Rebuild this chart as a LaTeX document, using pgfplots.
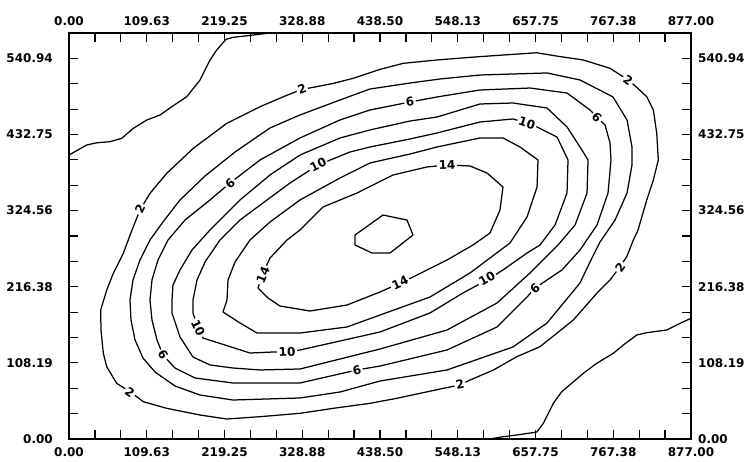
\documentclass[border=0pt]{standalone}
\usepackage{pgfplots}
\pgfplotsset{compat=1.18}
\usepackage{fontspec}
\setmainfont{DejaVu Sans}
\tikzset{lbl/.style={fill=white, inner sep=1.5bp, font=\bfseries\fontsize{12bp}{14bp}\selectfont}}
\pgfplotsset{cl/.style={black, solid, line width=1.25bp, line join=round, no markers}}
\begin{document}
\begin{tikzpicture}
\useasboundingbox (0,0) rectangle (747bp,462bp);
\pgfplotsset{
  base/.style={at={(69bp,23bp)}, anchor=south west, scale only axis,
    width=622bp, height=406bp, xmin=0, xmax=877, ymin=0, ymax=577,
    xtick={0,109.625,219.25,328.875,438.5,548.125,657.75,767.375,877},
    xticklabels={0.00,109.63,219.25,328.88,438.50,548.13,657.75,767.38,877.00},
    ytick={0,108.1875,216.375,324.5625,432.75,540.9375},
    yticklabels={0.00,108.19,216.38,324.56,432.75,540.94},
    ticklabel style={font=\bfseries\fontsize{12bp}{14bp}\selectfont, inner sep=0pt},
  }
}
\begin{axis}[base,
  minor x tick num=2, minor y tick num=2,
  tick align=inside, xtick pos=both, ytick pos=both,
  major tick length=9bp, minor tick length=9bp,
  every tick/.style={black, line width=1.2bp},
  axis line style={line width=1.6bp},
  xticklabel style={anchor=north, yshift=-8bp},
  yticklabel style={anchor=east, xshift=-16bp},
]
% corner line, top left
\addplot[cl] coordinates {(0,403.6) (25.0,417.8) (39.1,421.0) (57.8,422.5) (74.3,427.3) (90.7,441.5) (109.6,453.3) (128.3,460.4) (144.8,472.2) (166.0,486.4) (184.7,510.1) (198.8,538.6) (208.3,552.8) (221.4,568.0) (231.3,570.8) (259.4,574.1) (283.4,577)};
% corner line, bottom right
\addplot[cl] coordinates {(593.6,0) (612.4,3.3) (631.3,5.7) (659.5,9.9) (668.8,22.3) (682.9,50.7) (694.7,67.2) (708.8,79.2) (725.2,93.4) (744.1,107.6) (767.5,121.8) (781.6,133.6) (800.5,147.8) (814.6,151.1) (842.8,154.9) (861.5,164.4) (877,171.5)};
% level 2
\addplot[cl] coordinates {(344.5,499.8) (372.7,505.4) (400.9,512.6) (438.5,525.3) (471.4,533.9) (518.5,538.6) (565.4,542.4) (612.4,545.7) (659.5,548.9) (687.7,544.2) (725.2,538.6) (762.8,526.8) (788.6,510.1) (800.5,499.8) (814.6,486.4) (823.9,467.5) (828.7,434.4) (830.9,396.5) (823.9,368.0) (814.6,339.6) (802.3,297.0) (795.7,282.8) (786.4,259.1) (776.9,244.8) (762.8,225.9) (744.1,207.0) (711.1,169.1) (687.7,150.2) (664.1,131.2) (631.3,116.9) (598.3,98.0) (565.4,83.8) (551.3,76.7) (527.8,72.0) (494.9,64.9) (462.1,57.8) (424.4,50.7) (372.7,43.6) (325.7,36.5) (269.3,31.7) (222.4,28.4) (184.7,34.1) (137.8,43.6) (104.8,53.0) (86.0,67.2) (67.3,79.1) (53.2,102.7) (48.4,121.8) (45.1,154.9) (44.7,183.3) (53.2,211.7) (62.5,235.5) (76.6,263.9) (88.8,297.0) (100.1,325.4) (114.2,349.1) (137.8,377.6) (175.3,413.1) (222.4,448.6) (269.3,472.2) (302.2,486.4) (328.1,496.9) (344.5,499.8)};
% level 4
\addplot[cl] coordinates {(86.0,197.5) (90.2,226.0) (100.1,254.4) (114.2,282.8) (132.5,308.4) (156.5,339.7) (191.8,373.8) (234.1,407.9) (283.4,442.0) (325.7,460.5) (382.1,481.8) (424.4,497.4) (480.8,505.9) (523.1,511.6) (579.5,517.3) (674.0,520.2) (720.5,510.2) (767.0,486.1) (786.8,453.4) (793.8,415.0) (793.8,389.4) (786.8,349.6) (769.9,311.2) (748.7,280.0) (734.6,251.6) (720.5,221.7) (674.0,164.9) (626.0,130.8) (533.0,98.1) (438.5,82.4) (382.1,66.8) (325.7,58.3) (231.2,55.4) (184.7,62.5) (149.5,75.3) (121.3,95.2) (104.3,115.1) (93.1,140.7) (87.4,169.1) (86.0,197.5)};
% level 6
\addplot[cl] coordinates {(114.2,197.5) (117.0,226.0) (125.5,254.4) (139.6,282.8) (163.6,311.2) (198.8,339.7) (227.0,363.8) (269.3,396.5) (325.7,427.8) (382.1,453.4) (424.4,467.6) (480.8,478.9) (518.9,486.1) (579.5,496.0) (650.0,498.8) (702.2,491.7) (734.6,467.6) (755.8,446.3) (762.8,420.7) (764.2,396.5) (760.0,349.6) (744.5,304.1) (720.5,268.6) (695.1,240.2) (674.0,226.0) (657.1,214.6) (645.8,201.8) (603.5,159.2) (533.0,126.5) (438.5,103.7) (406.1,98.1) (325.7,79.6) (231.2,79.6) (177.7,86.7) (149.5,100.9) (132.5,119.4) (124.1,140.7) (117.0,169.1) (114.2,197.5)};
% level 8
\addplot[cl] coordinates {(145.2,197.5) (146.6,218.9) (156.5,240.2) (173.4,268.6) (198.8,297.0) (241.1,339.7) (283.4,375.2) (325.7,403.6) (382.1,427.8) (424.4,439.2) (480.8,451.9) (518.9,457.6) (579.5,476.1) (626.0,477.5) (674.0,470.4) (702.2,443.4) (720.5,415.0) (731.8,396.5) (730.4,349.6) (713.5,304.1) (689.5,275.7) (650.0,235.9) (603.5,193.3) (533.0,154.9) (438.5,127.9) (325.7,99.5) (269.3,98.1) (231.2,100.9) (198.8,105.2) (174.8,116.5) (156.5,145.0) (145.2,179.1) (145.2,197.5)};
% level 10
\addplot[cl] coordinates {(174.8,197.5) (180.5,226.0) (191.8,251.6) (212.9,282.8) (241.1,311.2) (279.2,339.7) (311.6,363.8) (351.1,389.4) (396.2,407.9) (424.4,415.0) (480.8,426.4) (518.9,434.9) (579.5,450.5) (626.0,454.8) (645.8,449.1) (659.9,443.4) (688.1,429.2) (703.6,396.5) (702.2,349.6) (685.3,304.1) (664.1,275.7) (645.8,264.3) (611.9,240.2) (589.4,226.0) (555.5,207.5) (509.0,179.1) (438.5,152.1) (325.7,126.5) (307.4,123.6) (287.6,123.6) (255.2,122.2) (188.9,143.5) (181.9,157.8) (174.8,179.1) (174.8,197.5)};
% level 12
\addplot[cl] coordinates {(222.8,197.5) (224.2,226.0) (234.1,251.6) (255.2,282.8) (283.4,308.4) (325.7,339.7) (382.1,370.9) (424.4,392.3) (480.8,405.0) (518.9,415.0) (579.5,427.8) (611.9,427.8) (635.9,415.0) (661.3,396.5) (659.9,358.1) (645.8,315.5) (621.8,278.6) (565.4,235.9) (509.0,201.8) (438.5,176.2) (392.0,159.2) (325.7,150.6) (265.1,150.6) (241.1,164.9) (217.1,180.5) (222.8,197.5)};
% level 14
\addplot[cl] coordinates {(266.5,214.6) (272.1,233.1) (283.4,257.2) (307.4,282.8) (325.7,297.0) (358.1,329.7) (406.1,349.6) (456.8,375.2) (504.8,386.6) (533.0,389.4) (565.4,388.0) (589.4,378.0) (611.9,358.1) (607.7,325.5) (593.6,292.8) (569.6,275.7) (533.0,254.4) (485.0,230.2) (466.7,221.7) (438.5,208.9) (392.0,190.4) (339.8,181.9) (297.5,189.0) (280.6,200.4) (266.5,214.6)};
% level 16
\addplot[cl] coordinates {(403.3,289.9) (442.7,318.3) (476.6,311.2) (485.0,289.9) (452.6,264.3) (427.2,264.3) (403.3,275.7) (403.3,289.9)};
% contour labels
\node[lbl, rotate=18] at (axis cs:328.5,497.4) {2};
\node[lbl, rotate=-35] at (axis cs:788.2,510.2) {2};
\node[lbl, rotate=55] at (axis cs:776.9,244.4) {2};
\node[lbl, rotate=12] at (axis cs:551.3,78.2) {2};
\node[lbl, rotate=-36] at (axis cs:86.0,66.8) {2};
\node[lbl, rotate=64] at (axis cs:100.1,326.9) {2};
\node[lbl, rotate=8] at (axis cs:480.8,478.9) {6};
\node[lbl, rotate=39] at (axis cs:227.0,363.8) {6};
\node[lbl, rotate=-45] at (axis cs:744.5,457.6) {6};
\node[lbl, rotate=40] at (axis cs:657.1,214.6) {6};
\node[lbl, rotate=13] at (axis cs:406.1,98.1) {6};
\node[lbl, rotate=-57] at (axis cs:132.5,119.4) {6};
\node[lbl, rotate=27] at (axis cs:351.1,389.4) {10};
\node[lbl, rotate=-18] at (axis cs:645.8,449.1) {10};
\node[lbl, rotate=30] at (axis cs:589.4,227.4) {10};
\node[lbl, rotate=3] at (axis cs:307.4,123.6) {10};
\node[lbl, rotate=-65] at (axis cs:181.9,157.8) {10};
\node[lbl, rotate=2] at (axis cs:533.0,389.4) {14};
\node[lbl, rotate=25] at (axis cs:466.7,221.7) {14};
\node[lbl, rotate=68] at (axis cs:273.5,233.1) {14};
\end{axis}
\begin{axis}[base,
  axis line style={draw=none}, major tick length=0pt,
  xticklabel pos=upper, yticklabel pos=upper,
  xticklabel style={anchor=south, yshift=7bp},
  yticklabel style={anchor=west, xshift=7bp},
]
\end{axis}
\end{tikzpicture}
\end{document}
